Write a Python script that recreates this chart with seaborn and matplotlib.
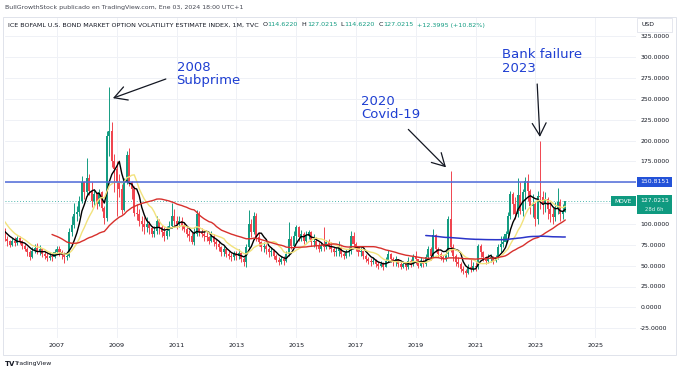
import numpy as np
import pandas as pd
import matplotlib
matplotlib.use("Agg")
import matplotlib.pyplot as plt
import seaborn as sns
from matplotlib.patches import Rectangle

# ---------------------------------------------------------
# Daten: TVC:MOVE, Monatskerzen Dez 2003 .. Jan 2024
# (die ersten Monate liegen links ausserhalb, speisen aber die Durchschnitte)
# ---------------------------------------------------------
first_month = "2003-12"
first_open = 110.0

close = [
    112, 110, 116, 120, 128, 130, 122, 118, 112, 108, 100, 96, 92,  # 2003/12 + 2004
    92, 90, 94, 82, 79, 75, 80, 77, 83, 79, 74, 70,                # 2005
    66, 60, 68, 71, 67, 70, 64, 62, 59, 62, 60, 66,                # 2006
    70, 66, 63, 60, 62, 90, 99, 112, 114, 128, 150, 138,           # 2007
    155, 140, 127, 136, 124, 138, 119, 107, 205, 212, 176, 166,    # 2008
    150, 142, 117, 152, 183, 150, 142, 113, 112, 104, 100, 96,     # 2009
    100, 95, 88, 92, 104, 96, 90, 86, 92, 98, 110, 104,            # 2010
    100, 104, 98, 94, 88, 86, 78, 88, 112, 90, 88, 86,             # 2011
    84, 80, 86, 78, 76, 72, 66, 70, 64, 62, 60, 64,                # 2012
    62, 65, 58, 54, 72, 100, 90, 110, 84, 78, 72, 74,              # 2013
    70, 66, 68, 62, 57, 55, 58, 56, 64, 82, 74, 86,                # 2014
    96, 84, 88, 80, 86, 90, 78, 80, 74, 70, 74, 72,                # 2015
    78, 74, 70, 66, 68, 72, 64, 62, 66, 68, 86, 76,                # 2016
    72, 66, 68, 62, 58, 56, 54, 56, 52, 50, 52, 49,                # 2017
    56, 64, 58, 54, 58, 52, 49, 52, 48, 56, 52, 60,                # 2018
    58, 50, 56, 52, 60, 70, 62, 87, 70, 64, 60, 58,                # 2019
    64, 106, 72, 62, 54, 52, 46, 44, 41, 48, 46, 50,               # 2020
    48, 74, 66, 60, 56, 58, 60, 56, 60, 72, 76, 78,                # 2021
    88, 110, 136, 124, 112, 135, 116, 138, 152, 140, 122, 124,     # 2022
    106, 134, 132, 124, 130, 118, 112, 108, 118, 126, 112, 114.622,  # 2023
    127.0215,                                                      # 2024
]
high = [
    116, 114, 122, 126, 136, 138, 132, 124, 120, 114, 110, 102, 98,
    96, 95, 98, 95, 85, 81, 83, 84, 86, 86, 81, 76,
    72, 69, 72, 76, 77, 75, 71, 68, 65, 66, 65, 70,
    74, 73, 69, 66, 66, 95, 110, 125, 121, 133, 158, 152,
    179, 160, 150, 141, 138, 142, 140, 122, 211, 264, 222, 184,
    175, 160, 148, 155, 188, 191, 152, 145, 124, 118, 110, 108,
    108, 104, 97, 98, 110, 106, 99, 96, 98, 104, 125, 118,
    110, 110, 108, 101, 96, 93, 90, 96, 117, 116, 95, 92,
    90, 86, 92, 88, 82, 80, 74, 74, 72, 67, 65, 68,
    68, 70, 66, 60, 76, 117, 106, 114, 113, 90, 80, 78,
    76, 72, 72, 70, 64, 60, 62, 62, 67, 102, 86, 92,
    99, 98, 93, 90, 92, 93, 91, 88, 84, 78, 78, 96,
    81, 82, 78, 72, 72, 80, 74, 66, 70, 72, 92, 90,
    78, 72, 72, 68, 64, 60, 59, 60, 58, 54, 56, 54,
    60, 69, 65, 60, 62, 58, 54, 56, 53, 60, 58, 64,
    68, 58, 60, 58, 64, 74, 72, 94, 88, 72, 66, 63,
    68, 110, 164, 76, 64, 60, 54, 50, 46, 52, 58, 54,
    54, 76, 76, 68, 62, 64, 64, 62, 63, 76, 86, 86,
    92, 114, 140, 138, 132, 155, 150, 142, 156, 160, 142, 136,
    126, 140, 199, 140, 138, 132, 126, 120, 126, 143, 130, 124,
    127.0215,
]
low = [
    106, 104, 108, 114, 118, 122, 118, 110, 108, 102, 96, 92, 88,
    88, 86, 88, 79, 74, 72, 73, 74, 75, 76, 70, 67,
    62, 57, 59, 65, 64, 63, 61, 58, 56, 57, 56, 59,
    64, 62, 58, 53, 57, 60, 86, 95, 104, 110, 125, 130,
    134, 135, 120, 122, 118, 121, 115, 100, 104, 182, 168, 138,
    110, 132, 112, 116, 148, 146, 130, 110, 105, 98, 92, 88,
    90, 88, 84, 84, 88, 88, 84, 80, 82, 86, 95, 96,
    94, 96, 93, 90, 84, 80, 76, 75, 86, 86, 84, 80,
    80, 76, 78, 74, 70, 68, 62, 62, 60, 58, 56, 57,
    57, 58, 54, 50, 48, 70, 84, 88, 80, 74, 68, 66,
    64, 61, 62, 58, 54, 51, 52, 51, 54, 62, 70, 72,
    78, 80, 80, 76, 78, 82, 74, 72, 70, 66, 68, 68,
    70, 70, 66, 62, 62, 62, 60, 58, 59, 62, 64, 72,
    68, 62, 62, 58, 55, 52, 50, 52, 48, 46, 48, 45,
    48, 55, 54, 50, 50, 48, 46, 47, 45, 46, 48, 50,
    52, 47, 48, 49, 50, 58, 57, 60, 66, 60, 57, 55,
    56, 60, 66, 56, 50, 48, 42, 40, 37, 40, 42, 44,
    44, 46, 60, 56, 52, 53, 54, 52, 54, 58, 66, 72,
    76, 86, 106, 112, 106, 108, 112, 110, 118, 128, 112, 108,
    98, 100, 118, 112, 114, 106, 102, 100, 104, 112, 104, 106,
    114.622,
]

# gleitende Durchschnitte (Farbe -> Periode)
ma_periods = {"#000000": 6, "#f2e27c": 12, "#d7302c": 36, "#2b35c9": 186}
ma_widths = {"#000000": 1.0, "#f2e27c": 1.0, "#d7302c": 1.0, "#2b35c9": 1.1}

resistance = 150.8151
last_price = 127.0215
year_ticks = [2007, 2009, 2011, 2013, 2015, 2017, 2019, 2021, 2023, 2025]
price_ticks = list(range(-25, 326, 25))
hidden_ticks = [125, 150]          # liegen unter den Preis-Labels

notes = [("2008\nSubprime", (2011.0, 296), (2010.64, 274), (2008.87, 251)),
         ("2020\nCovid-19", (2017.17, 255), (2018.75, 213.5), (2020.01, 168)),
         ("Bank failure\n2023", (2021.88, 311), (2023.06, 268), (2023.15, 204.5))]

UP, DOWN = "#149c82", "#f0454f"
W, H = 680, 374

# ---------------------------------------------------------
sns.set_theme(style="white")
plt.rcParams["font.family"] = ["DejaVu Sans"]

months = pd.date_range(first_month, periods=len(close), freq="MS")
xs = np.asarray(months.year + (months.month - 1) / 12.0, dtype=float)
c = np.array(close, dtype=float)
o = np.concatenate([[first_open], c[:-1]])
hi = np.array(high, dtype=float)
lo = np.array(low, dtype=float)

fig = plt.figure(figsize=(W / 100, H / 100), dpi=100)
fig.patch.set_facecolor("white")

# Pane: x 5..636 px, y 17..338 px
ax = fig.add_axes([5 / W, 1 - 338 / H, 631 / W, 321 / H])
px_per_year = 29.9
ax.set_xlim(2007 + (5 - 57) / px_per_year, 2007 + (636 - 57) / px_per_year)
ax.set_ylim(-36.8, 348.4)

ax.set_xticks(year_ticks)
ax.set_xticklabels([str(y) for y in year_ticks])
ax.yaxis.tick_right()
ax.set_yticks(price_ticks)
ax.set_yticklabels(["" if p in hidden_ticks else f"{p:.4f}" for p in price_ticks])
ax.tick_params(axis="x", length=0, pad=3.5, labelsize=4.6, colors="#131722")
ax.tick_params(axis="y", length=0, pad=3.0, labelsize=4.4, colors="#131722")
ax.grid(True, color="#eff1f6", lw=0.7)
for s in ax.spines.values():
    s.set_visible(False)

# Kerzen
up = c >= o
cols = np.where(up, UP, DOWN)
ax.vlines(xs, lo, hi, colors=cols, lw=0.7, zorder=2)
body_bot = np.minimum(o, c)
body_h = np.maximum(np.abs(c - o), 0.8)
ax.bar(xs, body_h, bottom=body_bot, width=0.068, color=cols, linewidth=0, zorder=3)

# gleitende Durchschnitte
cs = pd.Series(c)
for col, n in ma_periods.items():
    ma = pd.DataFrame({"x": xs, "ma": cs.rolling(n).mean()}).dropna()
    sns.lineplot(data=ma, x="x", y="ma", color=col, lw=ma_widths[col], ax=ax, zorder=4,
                 estimator=None, sort=False)
ax.set_xlabel("")
ax.set_ylabel("")

# horizontale Linien
ax.axhline(resistance, color="#4e6ad8", lw=1.1, zorder=5)
ax.axhline(last_price, color="#26a69a", lw=0.7, ls=(0, (1, 2)), alpha=0.8, zorder=1)

# Beschriftungen
for label, txt_xy, tail, tip in notes:
    ax.text(*txt_xy, label, color="#1f3fd2", fontsize=9.5, va="top", ha="left",
            linespacing=1.05, zorder=6)
    ax.annotate("", xy=tip, xytext=tail,
                arrowprops=dict(arrowstyle="->,head_length=0.9,head_width=0.5",
                                color="#131722", lw=0.9, shrinkA=0, shrinkB=0,
                                mutation_scale=10), zorder=6)

# Preis-Labels rechts
def fbox(x0, y0, x1, y1, fc, ec="none", lw=0):
    fig.patches.append(Rectangle((x0 / W, 1 - y1 / H), (x1 - x0) / W, (y1 - y0) / H,
                                 transform=fig.transFigure, fc=fc, ec=ec, lw=lw, zorder=10))

def price_y(v):
    return 17 + (348.4 - v) / (348.4 + 36.8) * 321

ry = price_y(resistance)
fbox(637, ry - 5, 672, ry + 5, "#2352d8")
fig.text(654.5 / W, 1 - ry / H, f"{resistance:.4f}", color="white", fontsize=4.4,
         ha="center", va="center", zorder=11)

my = price_y(last_price)
fbox(611, my - 5, 636, my + 5, "#0f9a80")
fig.text(623.5 / W, 1 - my / H, "MOVE", color="white", fontsize=4.2,
         ha="center", va="center", zorder=11)
fbox(637, my - 6, 672, my + 13, "#0f9a80")
fig.text(654.5 / W, 1 - (my - 1) / H, f"{last_price:.4f}", color="white", fontsize=4.3,
         ha="center", va="center", zorder=11)
fig.text(654.5 / W, 1 - (my + 8) / H, "28d 6h", color="#d9f2ec", fontsize=3.8,
         ha="center", va="center", zorder=11)

# USD-Box
fbox(637, 18, 672, 32, "white", ec="#e0e3eb", lw=0.6)
fig.text(642 / W, 1 - 25 / H, "USD", color="#131722", fontsize=4.4, ha="left",
         va="center", zorder=11)

# Rahmen
fig.patches.append(Rectangle((3 / W, 1 - 355 / H), 673 / W, 338 / H, transform=fig.transFigure,
                             fill=False, ec="#e0e3eb", lw=0.7, zorder=9))

# Kopfzeilen
fig.text(5 / W, 1 - 8 / H, "BullGrowthStock publicado en TradingView.com, Ene 03, 2024 18:00 UTC+1",
         color="#434651", fontsize=4.5, ha="left", va="center")

renderer = fig.canvas.get_renderer()
pieces = [("ICE BOFAML U.S. BOND MARKET OPTION VOLATILITY ESTIMATE INDEX, 1M, TVC", "#131722"),
          ("  O", "#131722"), ("114.6220", UP), ("  H", "#131722"), ("127.0215", UP),
          ("  L", "#131722"), ("114.6220", UP), ("  C", "#131722"), ("127.0215", UP),
          ("  +12.3995 (+10.82%)", UP)]
x = 8
for s, col in pieces:
    t = fig.text(x / W, 1 - 25 / H, s, color=col, fontsize=4.6, ha="left", va="center")
    x += t.get_window_extent(renderer).width

# TradingView-Logo
fig.text(5 / W, 1 - 364 / H, "TV", color="#131722", fontsize=5, fontweight="bold",
         ha="left", va="center")
fig.text(15 / W, 1 - 364 / H, "TradingView", color="#131722", fontsize=4.4,
         ha="left", va="center")

fig.savefig("out.png", dpi=100)
print("fertig")
